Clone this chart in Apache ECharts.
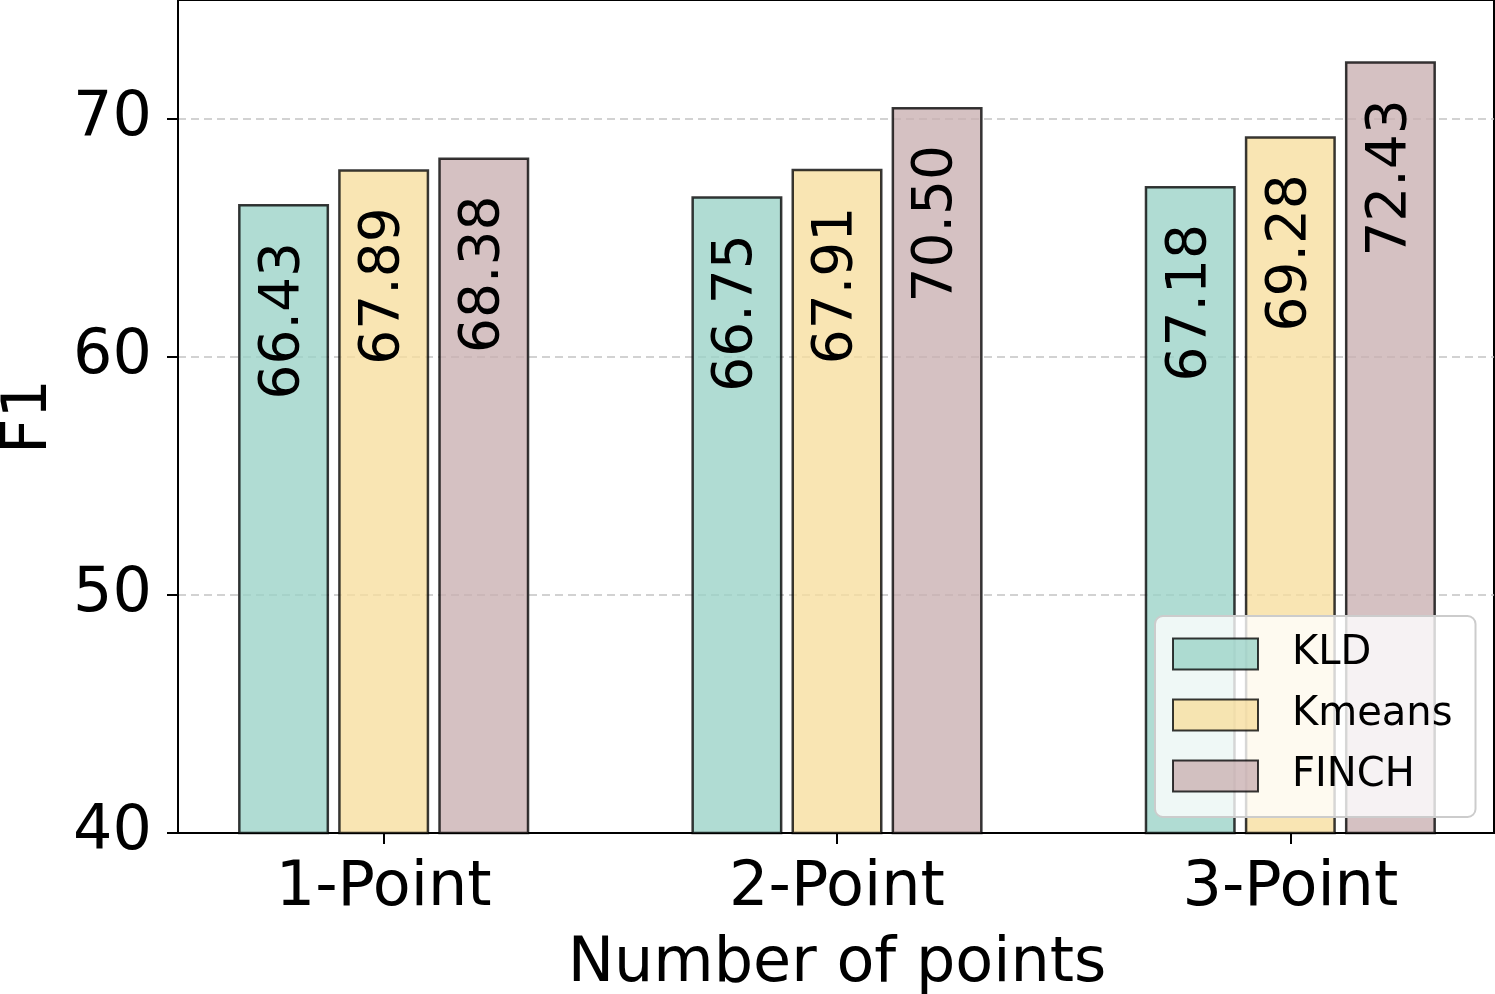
<!DOCTYPE html>
<html>
<head>
<meta charset="utf-8">
<script src="https://cdn.jsdelivr.net/npm/echarts@6/dist/echarts.min.js"></script>
<style>
html,body{margin:0;padding:0;background:#fff;}
#chart{width:1495px;height:994px;}
</style>
</head>
<body>
<div id="chart"></div>
<script>
const categories = ['1-Point', '2-Point', '3-Point'];
const seriesNames = ['KLD', 'Kmeans', 'FINCH'];
const kldValues = [66.43, 66.75, 67.18];
const kmeansValues = [67.89, 67.91, 69.28];
const finchValues = [68.38, 70.50, 72.43];
const yTicks = [40, 50, 60, 70];

const FONT = 'DejaVu Sans';
const colors = ['rgba(156,211,200,0.8)', 'rgba(247,222,160,0.8)', 'rgba(202,177,179,0.8)'];
const valuesList = [kldValues, kmeansValues, finchValues];

const chart = echarts.init(document.getElementById('chart'), null, {renderer: 'canvas'});

const series = seriesNames.map((name, i) => ({
  name: name,
  type: 'bar',
  xAxisIndex: 1,
  yAxisIndex: 1,
  data: valuesList[i],
  barWidth: 91,
  barGap: '10%',
  itemStyle: {color: colors[i], borderColor: 'rgba(0,0,0,0.78)', borderWidth: 2.5},
  label: {
    show: true,
    position: 'insideTop',
    distance: 38,
    rotate: 90,
    align: 'right',
    verticalAlign: 'middle',
    fontFamily: FONT,
    fontSize: 55,
    color: '#000',
    formatter: p => p.value.toFixed(2)
  },
  emphasis: {disabled: true}
}));

chart.setOption({
  animation: false,
  textStyle: {fontFamily: FONT},
  grid: [
    {left: 178, right: 1, top: 0, bottom: 161, show: true, borderColor: '#000', borderWidth: 2, backgroundColor: 'transparent', outerBoundsMode: 'none', containLabel: false},
    {left: 157, width: 1360, top: 0, bottom: 161, outerBoundsMode: 'none', containLabel: false}
  ],
  xAxis: [
    {type: 'value', gridIndex: 0, min: 0, max: 1,
      axisLine: {show: true, onZero: false, lineStyle: {color: '#000', width: 2}},
      axisTick: {show: false}, axisLabel: {show: false}, splitLine: {show: false}},
    {
      type: 'category', gridIndex: 1, data: categories,
      axisLine: {show: false},
      axisTick: {show: true, alignWithLabel: true, length: 11, lineStyle: {color: '#000', width: 2}},
      axisLabel: {fontFamily: FONT, fontSize: 62, color: '#000', margin: 25},
      name: 'Number of points', nameLocation: 'middle', nameGap: 101,
      nameTextStyle: {fontFamily: FONT, fontSize: 62, color: '#000'}
    }
  ],
  yAxis: [
    {
      type: 'value', gridIndex: 0, min: 40, max: 75, interval: 10,
      axisLine: {show: true, lineStyle: {color: '#000', width: 2}},
      axisTick: {show: true, length: 11, lineStyle: {color: '#000', width: 2}, customValues: yTicks},
      axisLabel: {fontFamily: FONT, fontSize: 62, color: '#000', margin: 26, customValues: yTicks},
      splitLine: {show: true, showMinLine: false, showMaxLine: true, lineStyle: {color: '#c4c4c4', width: 1.5, type: [8, 5]}},
      name: 'F1', nameLocation: 'middle', nameGap: 117,
      nameTextStyle: {fontFamily: FONT, fontSize: 62, color: '#000'}
    },
    {type: 'value', gridIndex: 1, min: 40, max: 75, show: false}
  ],
  legend: {
    orient: 'vertical',
    left: 1155,
    top: 616,
    data: seriesNames,
    icon: 'rect',
    itemWidth: 85,
    itemHeight: 31,
    itemGap: 21,
    padding: [18, 23, 21, 17],
    backgroundColor: 'rgba(255,255,255,0.8)',
    borderColor: '#cccccc',
    borderWidth: 2,
    borderRadius: 8,
    textStyle: {fontFamily: FONT, fontSize: 40, color: '#000', lineHeight: 31, padding: [0, 0, 0, 29]}
  },
  series: series
});
</script>
</body>
</html>
